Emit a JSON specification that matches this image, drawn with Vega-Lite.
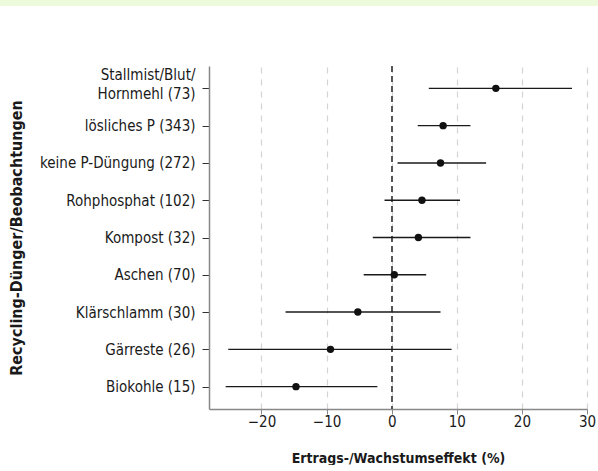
{
  "$schema": "https://vega.github.io/schema/vega-lite/v6.json",
  "padding": 0,
  "background": "white",
  "spacing": 59,
  "config": {
    "view": {"stroke": null},
    "font": "DejaVu Sans Condensed",
    "concat": {"spacing": 0}
  },
  "datasets": {
    "effects": [
      {"label": "Stallmist/Blut/|Hornmehl (73)", "est": 16.0, "lo": 5.7, "hi": 27.7},
      {"label": "lösliches P (343)", "est": 7.9, "lo": 4.0, "hi": 12.1},
      {"label": "keine P-Düngung (272)", "est": 7.5, "lo": 0.9, "hi": 14.5},
      {"label": "Rohphosphat (102)", "est": 4.65, "lo": -1.1, "hi": 10.5},
      {"label": "Kompost (32)", "est": 4.1, "lo": -2.9, "hi": 12.1},
      {"label": "Aschen (70)", "est": 0.4, "lo": -4.3, "hi": 5.3},
      {"label": "Klärschlamm (30)", "est": -5.2, "lo": -16.3, "hi": 7.5},
      {"label": "Gärreste (26)", "est": -9.4, "lo": -25.1, "hi": 9.2},
      {"label": "Biokohle (15)", "est": -14.7, "lo": -25.5, "hi": -2.2}
    ]
  },
  "vconcat": [
    {
      "width": 598,
      "height": 6,
      "view": {"fill": "#eefadc", "stroke": null},
      "data": {"values": [{"a": 1}]},
      "mark": {"type": "point", "opacity": 0},
      "encoding": {}
    },
    {
      "spacing": 0,
      "hconcat": [
        {
          "width": 8,
          "height": 343,
          "data": {"values": [{"a": 1}]},
          "mark": {"type": "point", "opacity": 0},
          "encoding": {}
        },
        {
          "width": 378,
          "height": 343,
          "data": {"name": "effects"},
          "encoding": {
            "y": {
              "field": "label",
              "type": "nominal",
              "sort": null,
              "scale": {"type": "point", "padding": 0.6},
              "axis": {
                "title": "Recycling-Dünger/Beobachtungen",
                "titleFont": "DejaVu Sans Condensed",
                "titleFontSize": 16,
                "titleFontWeight": "bold",
                "titleColor": "#1a1a1a",
                "titlePadding": 15,
                "labelExpr": "split(datum.label, '|')",
                "labelFont": "DejaVu Sans Condensed",
                "labelFontSize": 15,
                "labelColor": "#1a1a1a",
                "labelLineHeight": 19,
                "labelOffset": {"condition": {"test": "indexof(datum.label, '|') >= 0", "value": -14}, "value": 0},
                "labelPadding": 7,
                "tickSize": 7,
                "tickColor": "#333333",
                "tickWidth": 1,
                "domainColor": "#888888",
                "domainWidth": 1.5,
                "grid": false
              }
            }
          },
          "layer": [
            {
              "mark": {"type": "rule", "strokeDash": [6, 4], "color": "#555555", "strokeWidth": 1.3},
              "encoding": {"x": {"datum": 0, "type": "quantitative"}, "y": {"value": 0}, "y2": {"value": 343}}
            },
            {
              "mark": {"type": "rule", "color": "#1a1a1a", "strokeWidth": 1.4},
              "encoding": {
                "x": {
                  "field": "lo",
                  "type": "quantitative",
                  "scale": {"domain": [-28.06, 30], "nice": false, "zero": false},
                  "axis": {
                    "title": "Ertrags-/Wachstumseffekt (%)",
                    "titleFont": "DejaVu Sans Condensed",
                    "titleFontSize": 14,
                    "titleFontWeight": "bold",
                    "titleColor": "#1a1a1a",
                    "titlePadding": 22,
                    "values": [-20, -10, 0, 10, 20, 30],
                    "labelExpr": "replace(datum.label, '-', '−')",
                    "labelFont": "DejaVu Sans Condensed",
                    "labelFontSize": 15,
                    "labelColor": "#1a1a1a",
                    "labelPadding": 0,
                    "labelFlush": false,
                    "labelOverlap": false,
                    "tickSize": 5,
                    "tickColor": "#888888",
                    "domainColor": "#888888",
                    "domainWidth": 1.5,
                    "grid": true,
                    "gridColor": "#d4d4d4",
                    "gridDash": [6, 6],
                    "gridWidth": 1.2
                  }
                },
                "x2": {"field": "hi"}
              }
            },
            {
              "mark": {"type": "point", "filled": true, "size": 55, "opacity": 1, "color": "#111111"},
              "encoding": {"x": {"field": "est", "type": "quantitative"}}
            }
          ]
        }
      ]
    }
  ]
}
